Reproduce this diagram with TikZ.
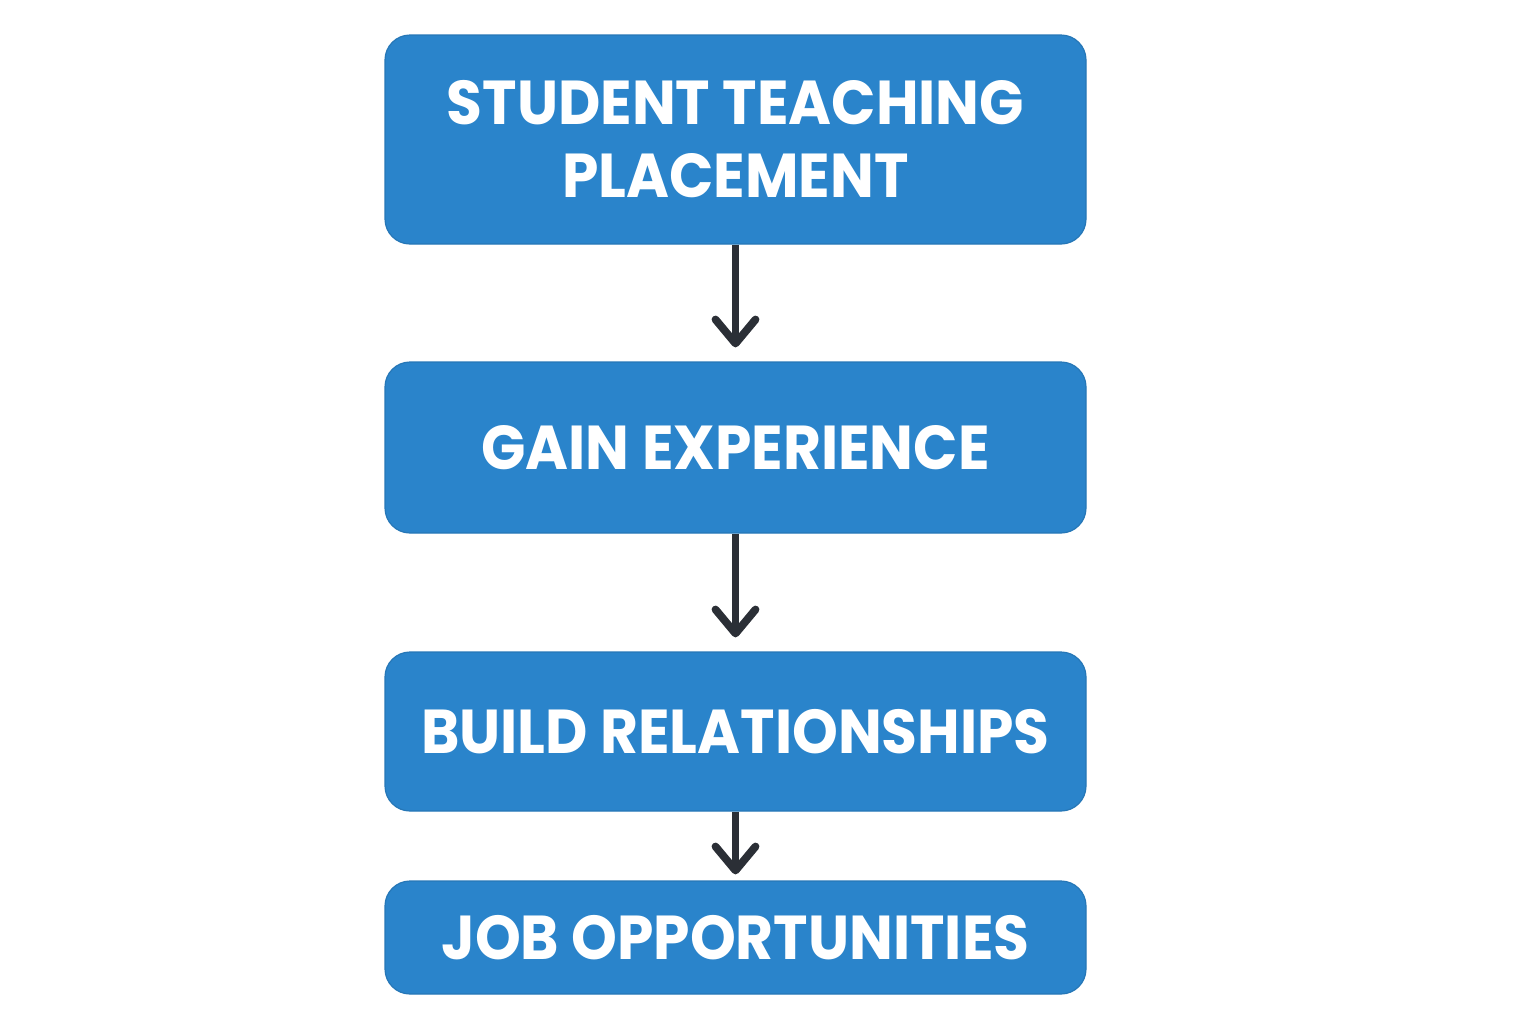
\documentclass[tikz,border=0pt]{standalone}
\usepackage{fontspec}
\setmainfont{Poppins}[FakeStretch=0.94]
\usetikzlibrary{arrows.meta}
\definecolor{boxblue}{HTML}{2A84CB}
\definecolor{arrowdark}{HTML}{2B2F36}
\tikzset{
  stepbox/.style={rectangle, rounded corners=12.5pt, fill=boxblue, draw=boxblue!90!black, line width=0.6pt,
    minimum width=350.5pt, text=white, font=\fontsize{31}{36.5}\selectfont\bfseries, align=center, inner sep=0pt},
  flowarrow/.style={draw=arrowdark, line width=3.9pt,
    -{Straight Barb[length=12pt,width=20pt,round]}}
}
\begin{document}
\begin{tikzpicture}[x=0.5pt,y=-0.5pt]
\useasboundingbox (0,0) rectangle (1536,1024);
\node[stepbox, minimum height=104.5pt] (a) at (735.5,139.5) {STUDENT TEACHING\\PLACEMENT};
\node[stepbox, minimum height=85.5pt] (b) at (735.5,447.5) {GAIN EXPERIENCE};
\node[stepbox, minimum height=79.5pt] (c) at (735.5,731.5) {BUILD RELATIONSHIPS};
\node[stepbox, minimum height=56.5pt] (d) at (735.5,937.5) {JOB OPPORTUNITIES};
\draw[flowarrow] (a.south) -- ([yshift=7pt]b.north);
\draw[flowarrow] (b.south) -- ([yshift=7pt]c.north);
\draw[flowarrow] (c.south) -- ([yshift=3pt]d.north);
\end{tikzpicture}
\end{document}
